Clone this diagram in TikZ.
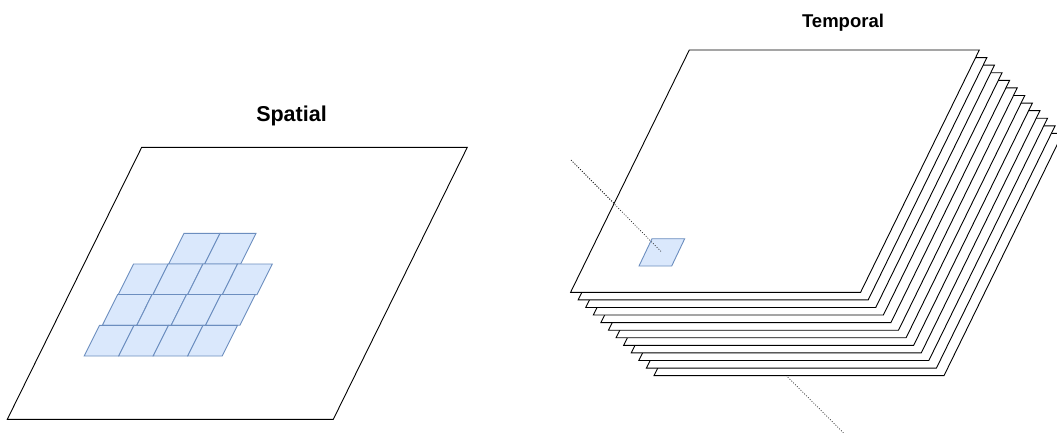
\documentclass[tikz,border=0pt]{standalone}
\usepackage{fontspec}
\setmainfont{Liberation Sans}
\definecolor{tileblue}{HTML}{DAE8FC}
\definecolor{tileedge}{HTML}{6C8EBF}
\begin{document}
\begin{tikzpicture}[x=1pt,y=-1pt,
  plane/.style={draw=black,fill=white,line width=0.9pt,line join=miter},
  tile/.style={draw=tileedge,fill=tileblue,line width=0.9pt,line join=miter},
  axisline/.style={draw=black!85,line width=0.7pt,dash pattern=on 0.9pt off 1.7pt},
  title/.style={anchor=base,inner sep=0pt}]
\useasboundingbox (0,0) rectangle (1057,434);
\clip (0,0) rectangle (1057,434);

% ---------- Spatial ----------
\node[title,font=\bfseries\fontsize{21.5}{26}\selectfont] (spatial) at (291.5,121) {Spatial};
\draw[plane] (141.7,147.3) -- (467.3,147.3) -- (333.3,419.3) -- (7.3,419.3) -- cycle;
\foreach \x/\y/\n/\w in {184/233.3/2/36, 133.5/264/4/34.7, 117.7/294.5/4/34.4, 99.5/325.3/4/34.5} {
  \foreach \k in {1,...,\n} {
    \draw[tile] ({\x+(\k-1)*\w},\y) -- ++(\w,0) -- ++(-15.3,30.7) -- ++(-\w,0) -- cycle;
  }
}

% ---------- Temporal ----------
\node[title,font=\bfseries\fontsize{18.5}{22}\selectfont] (temporal) at (843,27.7) {Temporal};
\coordinate (a) at (571,160);
\coordinate (b) at (843.3,432.7);
\coordinate (tc) at (661.8,252.3);
\draw[axisline] (a) -- (b);
\foreach \i in {11,10,...,0} {
  \draw[plane] ({689.3+7.58*\i},{50+7.58*\i}) -- ++(290,0) -- ++(-118.7,242.3) -- ++(-290,0) -- cycle;
}
\draw[tile] (652,238.7) -- (684.7,238.7) -- (671.7,266) -- (639,266) -- cycle;
\draw[axisline] (a) -- (tc);
\end{tikzpicture}
\end{document}
